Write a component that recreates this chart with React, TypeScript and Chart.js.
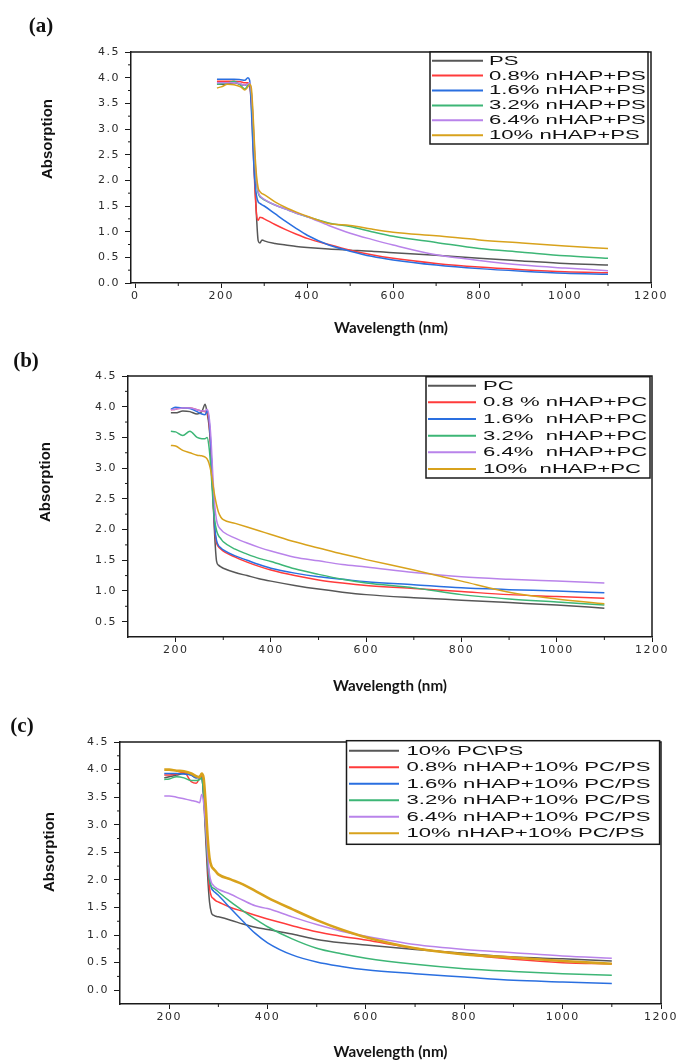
import React, { useEffect, useRef } from "react";
import { Chart, registerables } from "chart.js";

Chart.register(...registerables);

// ---------------- DATA ----------------
const WAVELENGTH = [190, 200, 215, 230, 245, 255, 262, 266, 270, 274, 278, 282, 286, 290, 295, 300, 325, 350, 375, 400, 450, 500, 550, 600, 700, 800, 900, 1000, 1100];

// Panel (a)
const A_LABELS = ["PS", "0.8% nHAP+PS", "1.6% nHAP+PS", "3.2% nHAP+PS", "6.4% nHAP+PS", "10% nHAP+PS"];
const A_PS = [3.87, 3.87, 3.88, 3.9, 3.87, 3.85, 3.88, 3.85, 3.6, 2.9, 2.0, 1.3, 0.82, 0.78, 0.84, 0.82, 0.77, 0.74, 0.71, 0.69, 0.66, 0.64, 0.62, 0.59, 0.54, 0.48, 0.43, 0.38, 0.35];
const A_N08 = [3.93, 3.93, 3.93, 3.93, 3.92, 3.9, 3.9, 3.85, 3.5, 2.7, 1.9, 1.35, 1.22, 1.28, 1.27, 1.25, 1.14, 1.04, 0.95, 0.87, 0.75, 0.64, 0.55, 0.48, 0.38, 0.31, 0.26, 0.22, 0.2];
const A_N16 = [3.97, 3.97, 3.97, 3.97, 3.96, 3.95, 4.0, 3.95, 3.4, 2.6, 2.0, 1.7, 1.58, 1.55, 1.52, 1.5, 1.35, 1.2, 1.06, 0.93, 0.74, 0.62, 0.52, 0.45, 0.35, 0.28, 0.23, 0.19, 0.17];
const A_N32 = [3.87, 3.88, 3.9, 3.93, 3.85, 3.78, 3.85, 3.88, 3.7, 3.1, 2.4, 1.95, 1.75, 1.68, 1.65, 1.62, 1.52, 1.44, 1.36, 1.29, 1.17, 1.1, 1.0, 0.91, 0.79, 0.67, 0.6, 0.53, 0.48];
const A_N64 = [3.9, 3.9, 3.9, 3.9, 3.88, 3.85, 3.88, 3.9, 3.72, 3.2, 2.5, 2.0, 1.78, 1.7, 1.66, 1.63, 1.52, 1.44, 1.36, 1.29, 1.12, 0.97, 0.85, 0.74, 0.55, 0.44, 0.35, 0.29, 0.24];
const A_N10 = [3.8, 3.82, 3.87, 3.86, 3.82, 3.76, 3.82, 3.87, 3.8, 3.3, 2.6, 2.1, 1.85, 1.78, 1.74, 1.72, 1.58, 1.47, 1.38, 1.3, 1.16, 1.12, 1.05, 0.99, 0.92, 0.84, 0.78, 0.72, 0.67];

// Panel (b)
const B_LABELS = ["PC", "0.8 % nHAP+PC", "1.6%  nHAP+PC", "3.2%  nHAP+PC", "6.4%  nHAP+PC", "10%  nHAP+PC"];
const B_PC = [3.9, 3.9, 3.93, 3.92, 3.88, 3.92, 4.04, 3.9, 3.7, 3.3, 2.6, 1.9, 1.48, 1.42, 1.39, 1.37, 1.3, 1.25, 1.2, 1.16, 1.09, 1.03, 0.98, 0.94, 0.89, 0.85, 0.81, 0.77, 0.72];
const B_N08 = [3.95, 3.96, 3.98, 3.98, 3.95, 3.93, 3.92, 3.9, 3.75, 3.3, 2.6, 2.0, 1.78, 1.72, 1.68, 1.65, 1.55, 1.47, 1.4, 1.34, 1.25, 1.18, 1.13, 1.09, 1.04, 0.99, 0.94, 0.91, 0.88];
const B_N16 = [3.96, 3.99, 3.98, 3.97, 3.92, 3.88, 3.87, 3.93, 3.8, 3.35, 2.65, 2.05, 1.82, 1.74, 1.7, 1.67, 1.57, 1.5, 1.43, 1.37, 1.29, 1.23, 1.19, 1.15, 1.1, 1.05, 1.02, 1.0, 0.97];
const B_N32 = [3.6, 3.59, 3.53, 3.6, 3.5, 3.48, 3.48, 3.5, 3.35, 3.0, 2.5, 2.15, 1.98, 1.9, 1.85, 1.8, 1.68, 1.6, 1.53, 1.48, 1.36, 1.27, 1.19, 1.13, 1.05, 0.94, 0.87, 0.82, 0.77];
const B_N64 = [3.95, 3.96, 3.98, 3.98, 3.95, 3.93, 3.93, 3.96, 3.85, 3.5, 2.9, 2.4, 2.15, 2.05, 2.0, 1.96, 1.86, 1.78, 1.71, 1.65, 1.55, 1.49, 1.43, 1.39, 1.3, 1.23, 1.19, 1.16, 1.13];
const B_N10 = [3.37, 3.36, 3.29, 3.25, 3.21, 3.2, 3.18, 3.15, 3.08, 2.95, 2.75, 2.55, 2.4, 2.28, 2.2, 2.16, 2.1, 2.04, 1.98, 1.92, 1.8, 1.7, 1.6, 1.51, 1.34, 1.16, 0.98, 0.87, 0.79];

// Panel (c)
const C_LABELS = ["10% PC\\PS", "0.8% nHAP+10% PC/PS", "1.6% nHAP+10% PC/PS", "3.2% nHAP+10% PC/PS", "6.4% nHAP+10% PC/PS", "10% nHAP+10% PC/PS"];
const C_PCPS = [3.85, 3.87, 3.9, 3.93, 3.9, 3.85, 3.88, 3.9, 3.5, 2.8, 2.1, 1.6, 1.4, 1.36, 1.34, 1.33, 1.27, 1.2, 1.14, 1.1, 1.02, 0.92, 0.86, 0.82, 0.74, 0.67, 0.6, 0.57, 0.53];
const C_N08 = [3.9, 3.9, 3.92, 3.95, 3.78, 3.75, 3.85, 3.88, 3.6, 3.0, 2.3, 1.85, 1.7, 1.66, 1.62, 1.6, 1.5, 1.43, 1.36, 1.29, 1.17, 1.06, 0.98, 0.91, 0.76, 0.65, 0.56, 0.5, 0.48];
const C_N16 = [3.93, 3.93, 3.93, 3.92, 3.9, 3.85, 3.85, 3.85, 3.55, 3.0, 2.4, 2.0, 1.85, 1.8, 1.76, 1.72, 1.48, 1.25, 1.03, 0.86, 0.64, 0.51, 0.43, 0.37, 0.3, 0.24, 0.18, 0.15, 0.12];
const C_N32 = [3.82, 3.83, 3.87, 3.85, 3.8, 3.8, 3.82, 3.85, 3.55, 3.0, 2.4, 2.0, 1.88, 1.85, 1.82, 1.78, 1.6, 1.44, 1.29, 1.15, 0.93, 0.76, 0.66, 0.58, 0.47, 0.39, 0.34, 0.3, 0.27];
const C_N64 = [3.52, 3.52, 3.5, 3.47, 3.44, 3.42, 3.4, 3.55, 3.4, 3.0, 2.5, 2.1, 1.95, 1.9, 1.86, 1.83, 1.74, 1.63, 1.53, 1.48, 1.33, 1.19, 1.07, 0.98, 0.83, 0.74, 0.68, 0.62, 0.58];
const C_N10 = [4.0, 4.0, 3.98, 3.97, 3.93, 3.88, 3.86, 3.93, 3.85, 3.4, 2.8, 2.4, 2.25, 2.2, 2.15, 2.1, 2.01, 1.92, 1.8, 1.68, 1.47, 1.27, 1.1, 0.96, 0.76, 0.65, 0.59, 0.53, 0.48];

// Tick labels
const A_X_TICKS = [0, 200, 400, 600, 800, 1000, 1200];
const BC_X_TICKS = [200, 400, 600, 800, 1000, 1200];
const A_Y_TICKS = [0, 0.5, 1, 1.5, 2, 2.5, 3, 3.5, 4, 4.5];
const B_Y_TICKS = [0.5, 1, 1.5, 2, 2.5, 3, 3.5, 4, 4.5];
const C_Y_TICKS = [0, 0.5, 1, 1.5, 2, 2.5, 3, 3.5, 4, 4.5];

const X_TITLE = "Wavelength (nm)";
const Y_TITLE = "Absorption";

const COLORS = ["#575757", "#ff3b3b", "#2a6fe0", "#3db676", "#b983ea", "#d8a21c"];

// ---------------- STYLE / LAYOUT ----------------
type Panel = {
  letter: string;
  top: number;
  height: number;
  labels: string[];
  series: number[][];
  xTicks: number[];
  yTicks: number[];
  xMin: number;
  xMax: number;
  yMin: number;
  yMax: number;
  yAxisWidth: number;
  xAxisHeight: number;
  padTop: number;
  padRight: number;
  legendBox: [number, number, number, number];
  rowY0: number;
  rowH: number;
  sampleX: [number, number];
  textX: number;
  yTitlePos: [number, number];
  xTitleY: number;
  letterPos: [number, number];
  lastWidth: number;
};

const PANELS: Panel[] = [
  {
    letter: "(a)", top: 0, height: 345,
    labels: A_LABELS, series: [A_PS, A_N08, A_N16, A_N32, A_N64, A_N10],
    xTicks: A_X_TICKS, yTicks: A_Y_TICKS, xMin: -10, xMax: 1200, yMin: 0, yMax: 4.5,
    yAxisWidth: 131, xAxisHeight: 62, padTop: 52, padRight: 29,
    legendBox: [430, 52, 648, 144], rowY0: 60.7, rowH: 14.9, sampleX: [432, 483], textX: 489,
    yTitlePos: [48, 139], xTitleY: 328, letterPos: [41, 27], lastWidth: 1.5,
  },
  {
    letter: "(b)", top: 345, height: 355,
    labels: B_LABELS, series: [B_PC, B_N08, B_N16, B_N32, B_N64, B_N10],
    xTicks: BC_X_TICKS, yTicks: B_Y_TICKS, xMin: 100, xMax: 1200, yMin: 0.25, yMax: 4.5,
    yAxisWidth: 128, xAxisHeight: 63, padTop: 31, padRight: 28,
    legendBox: [426, 31.7, 650, 133], rowY0: 40.7, rowH: 16.65, sampleX: [428, 476], textX: 483,
    yTitlePos: [46, 137], xTitleY: 341, letterPos: [26, 17], lastWidth: 1.5,
  },
  {
    letter: "(c)", top: 700, height: 363,
    labels: C_LABELS, series: [C_PCPS, C_N08, C_N16, C_N32, C_N64, C_N10],
    xTicks: BC_X_TICKS, yTicks: C_Y_TICKS, xMin: 100, xMax: 1200, yMin: -0.25, yMax: 4.5,
    yAxisWidth: 120, xAxisHeight: 59, padTop: 42, padRight: 19,
    legendBox: [346.5, 40.7, 659.6, 144.3], rowY0: 50.7, rowH: 16.5, sampleX: [349, 399], textX: 406.5,
    yTitlePos: [50, 152], xTitleY: 351.5, letterPos: [22, 27], lastWidth: 2.6,
  },
];

const decorPlugin = {
  id: "decor",
  beforeDraw(chart: any) {
    (chart.ctx as any).letterSpacing = "1.5px";
  },
  afterDraw(chart: any, _args: any, opts: any) {
    const p: Panel = opts.panel;
    const ctx = chart.ctx;
    ctx.save();
    (ctx as any).letterSpacing = "0px";
    const { left, right, top, bottom } = chart.chartArea;
    const xs = chart.scales.x;
    const ys = chart.scales.y;

    // frame (top / right)
    ctx.strokeStyle = "#1a1a1a";
    ctx.lineWidth = 1.5;
    ctx.beginPath();
    ctx.moveTo(left, top);
    ctx.lineTo(right, top);
    ctx.lineTo(right, bottom);
    ctx.stroke();

    // minor ticks (midpoints of major ticks)
    ctx.lineWidth = 1;
    const xStep = p.xTicks[1] - p.xTicks[0];
    for (let v = p.xTicks[0] - xStep / 2; v <= p.xMax; v += xStep) {
      if (v <= p.xMin) continue;
      const px = xs.getPixelForValue(v);
      ctx.beginPath();
      ctx.moveTo(px, bottom);
      ctx.lineTo(px, bottom + 3);
      ctx.stroke();
    }
    const yStep = p.yTicks[1] - p.yTicks[0];
    for (let v = p.yTicks[0] - yStep / 2; v <= p.yMax; v += yStep) {
      if (v <= p.yMin) continue;
      const py = ys.getPixelForValue(v);
      ctx.beginPath();
      ctx.moveTo(left - 3, py);
      ctx.lineTo(left, py);
      ctx.stroke();
    }

    // legend
    const [bx1, by1, bx2, by2] = p.legendBox;
    ctx.fillStyle = "#ffffff";
    ctx.fillRect(bx1, by1, bx2 - bx1, by2 - by1);
    ctx.strokeStyle = "#1a1a1a";
    ctx.lineWidth = 1.5;
    ctx.strokeRect(bx1, by1, bx2 - bx1, by2 - by1);
    chart.data.datasets.forEach((ds: any, i: number) => {
      const y = p.rowY0 + i * p.rowH;
      ctx.strokeStyle = ds.borderColor;
      ctx.lineWidth = 2;
      ctx.beginPath();
      ctx.moveTo(p.sampleX[0], y);
      ctx.lineTo(p.sampleX[1], y);
      ctx.stroke();
      ctx.save();
      ctx.translate(p.textX, y);
      ctx.scale(1.77, 1);
      ctx.fillStyle = "#111111";
      ctx.font = "12.5px 'Liberation Sans', Arial, sans-serif";
      ctx.textBaseline = "middle";
      ctx.textAlign = "left";
      ctx.fillText(ds.label, 0, 0.5);
      ctx.restore();
    });

    // y title
    ctx.save();
    ctx.translate(p.yTitlePos[0], p.yTitlePos[1]);
    ctx.rotate(-Math.PI / 2);
    ctx.fillStyle = "#111111";
    ctx.font = "bold 15px 'Liberation Sans', Arial, sans-serif";
    ctx.textAlign = "center";
    ctx.textBaseline = "middle";
    ctx.fillText(Y_TITLE, 0, 0);
    ctx.restore();

    // x title (condensed to the reference width)
    ctx.save();
    ctx.font = "bold 16px Lato, 'Open Sans', sans-serif";
    const w = ctx.measureText(X_TITLE).width;
    const sx = 114 / w;
    ctx.translate((left + right) / 2, p.xTitleY);
    ctx.scale(sx, 1);
    ctx.fillStyle = "#141414";
    ctx.textAlign = "center";
    ctx.textBaseline = "middle";
    ctx.fillText(X_TITLE, 0, 0);
    ctx.restore();

    // panel letter
    ctx.fillStyle = "#111111";
    ctx.textAlign = "center";
    ctx.textBaseline = "middle";
    ctx.font = "bold 21px 'Liberation Serif', 'Times New Roman', serif";
    ctx.fillText(p.letter, p.letterPos[0], p.letterPos[1]);

    ctx.restore();
  },
};

function PanelChart({ p }: { p: Panel }) {
  const ref = useRef<HTMLCanvasElement | null>(null);
  useEffect(() => {
    if (!ref.current) return;
    const n = p.series.length;
    const chart = new Chart(ref.current, {
      type: "line",
      data: {
        datasets: p.series.map((vals, i) => ({
          label: p.labels[i],
          data: WAVELENGTH.map((w, j) => ({ x: w, y: vals[j] })),
          borderColor: COLORS[i],
          backgroundColor: COLORS[i],
          borderWidth: i === n - 1 ? p.lastWidth : 1.5,
          pointRadius: 0,
          fill: false,
          cubicInterpolationMode: "monotone" as const,
          order: n - i,
        })),
      },
      options: {
        responsive: false,
        animation: false,
        devicePixelRatio: 1,
        layout: { padding: { left: 0, right: p.padRight, top: p.padTop, bottom: 0 } },
        plugins: {
          legend: { display: false },
          tooltip: { enabled: false },
          decor: { panel: p },
        } as any,
        scales: {
          x: {
            type: "linear",
            min: p.xMin,
            max: p.xMax,
            afterBuildTicks: (scale: any) => {
              scale.ticks = p.xTicks.map((v) => ({ value: v }));
            },
            afterFit: (scale: any) => {
              scale.height = p.xAxisHeight;
            },
            grid: { drawOnChartArea: false, drawTicks: true, tickLength: 5, color: "#1a1a1a", tickWidth: 1 },
            border: { color: "#1a1a1a", width: 1.5 },
            ticks: {
              autoSkip: false,
              maxRotation: 0,
              padding: 2,
              color: "#2b2b2b",
              font: { family: "'DejaVu Sans', sans-serif", size: 11 },
              callback: (v: any) => String(v),
            },
          },
          y: {
            type: "linear",
            min: p.yMin,
            max: p.yMax,
            afterBuildTicks: (scale: any) => {
              scale.ticks = p.yTicks.map((v) => ({ value: v }));
            },
            afterFit: (scale: any) => {
              scale.width = p.yAxisWidth;
            },
            grid: { drawOnChartArea: false, drawTicks: true, tickLength: 6, color: "#1a1a1a", tickWidth: 1 },
            border: { color: "#1a1a1a", width: 1.5 },
            ticks: {
              padding: 5,
              color: "#2b2b2b",
              font: { family: "'DejaVu Sans', sans-serif", size: 11 },
              callback: (v: any) => Number(v).toFixed(1),
            },
          },
        },
      },
      plugins: [decorPlugin as any],
    });
    return () => chart.destroy();
  }, [p]);
  return (
    <canvas
      ref={ref}
      width={680}
      height={p.height}
      style={{ position: "absolute", left: 0, top: p.top, width: 680, height: p.height }}
    />
  );
}

export default function App() {
  return (
    <div style={{ position: "absolute", left: 0, top: 0, width: 680, height: 1063, background: "#ffffff" }}>
      {PANELS.map((p) => (
        <PanelChart key={p.letter} p={p} />
      ))}
    </div>
  );
}
